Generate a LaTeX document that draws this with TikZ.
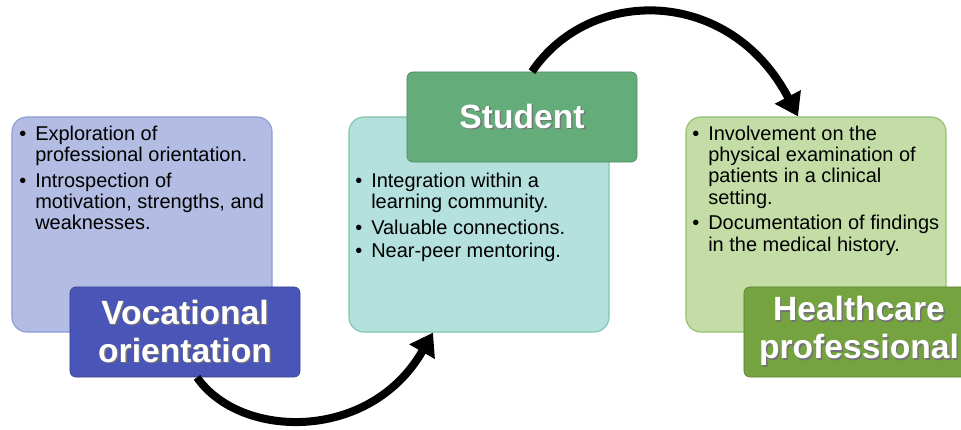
\documentclass[tikz,border=0pt]{standalone}
\usepackage{fontspec}
\setmainfont{Liberation Sans}
\usetikzlibrary{arrows.meta}

% fills and borders
\definecolor{vocfill}{HTML}{B3BCE2}
\definecolor{vocline}{HTML}{8E9BD6}
\definecolor{vocdark}{HTML}{4A55B8}
\definecolor{stufill}{HTML}{B4E1DE}
\definecolor{stuline}{HTML}{7DC6A8}
\definecolor{studark}{HTML}{65AC7B}
\definecolor{hcfill}{HTML}{C4DDA7}
\definecolor{hcline}{HTML}{90C070}
\definecolor{hcdark}{HTML}{74A33F}

% white heading text with a soft drop shadow
\newcommand{\shadowed}[1]{\makebox[0pt][l]{\hspace{1pt}\raisebox{-1.2pt}{\textcolor{black!55}{#1}}}#1}
\newcommand{\bul}{\makebox[0.4cm][l]{\textbullet}}

\tikzset{
	infobox/.style 2 args={fill=#1, draw=#2, line width=0.8pt, rounded corners=0.375cm,
		minimum width=6.5cm, minimum height=5.375cm, inner sep=0pt},
	titlebox/.style={fill=#1, draw=#1!80!black, line width=0.5pt, rounded corners=0.15cm,
		minimum width=5.75cm, minimum height=2.25cm, inner sep=0pt, text=white, align=center,
		font=\fontsize{23.9}{27}\selectfont\bfseries},
	bullets/.style={anchor=north west, inner sep=0pt, font=\fontsize{14.2}{15.2}\selectfont},
	flow/.style={line width=0.2cm, -{Triangle[length=0.55cm, width=0.7cm]}}
}

\begin{document}
\begin{tikzpicture}[x=0.025cm, y=-0.025cm]
	\useasboundingbox (0,0) rectangle (961,429);
	
	% Vocational orientation
	\node[infobox={vocfill}{vocline}] (vocb) at (142,224.5) {};
	\node[bullets] (voctxt) at (19,125) {%
		\begin{tabular}{@{}l@{}l@{}}
			\bul & Exploration of\\
			& professional orientation.\\[3pt]
			\bul & Introspection of\\
			& motivation, strengths, and\\
			& weaknesses.
		\end{tabular}};
	\node[titlebox=vocdark] (voct) at (185,332) {\shadowed{Vocational}\\\shadowed{orientation}};
	
	% Student
	\node[infobox={stufill}{stuline}] (stub) at (479,224.5) {};
	\node[bullets] (stutxt) at (355,172) {%
		\begin{tabular}{@{}l@{}l@{}}
			\bul & Integration within a\\
			& learning community.\\[3pt]
			\bul & Valuable connections.\\[1.5pt]
			\bul & Near-peer mentoring.
		\end{tabular}};
	\node[titlebox=studark] (stut) at (522,117) {\shadowed{Student}};
	
	% Healthcare professional
	\node[infobox={hcfill}{hcline}] (hcb) at (816,224.5) {};
	\node[bullets] (hctxt) at (692,125) {%
		\begin{tabular}{@{}l@{}l@{}}
			\bul & Involvement on the\\
			& physical examination of\\
			& patients in a clinical\\
			& setting.\\[3pt]
			\bul & Documentation of findings\\
			& in the medical history.
		\end{tabular}};
	\node[titlebox=hcdark] (hct) at (859,332) {\shadowed{Healthcare}\\\shadowed{professional}};
	
	% Arrows
	\draw[flow] ([xshift=0.3cm]voct.south) .. controls +(43,62) and +(-63,110) .. ([xshift=-1.15cm]stub.south);
	\draw[flow] ([xshift=0.25cm]stut.north) .. controls +(58,-86) and +(-68,-130) .. ([xshift=-0.45cm]hcb.north);
\end{tikzpicture}
\end{document}
